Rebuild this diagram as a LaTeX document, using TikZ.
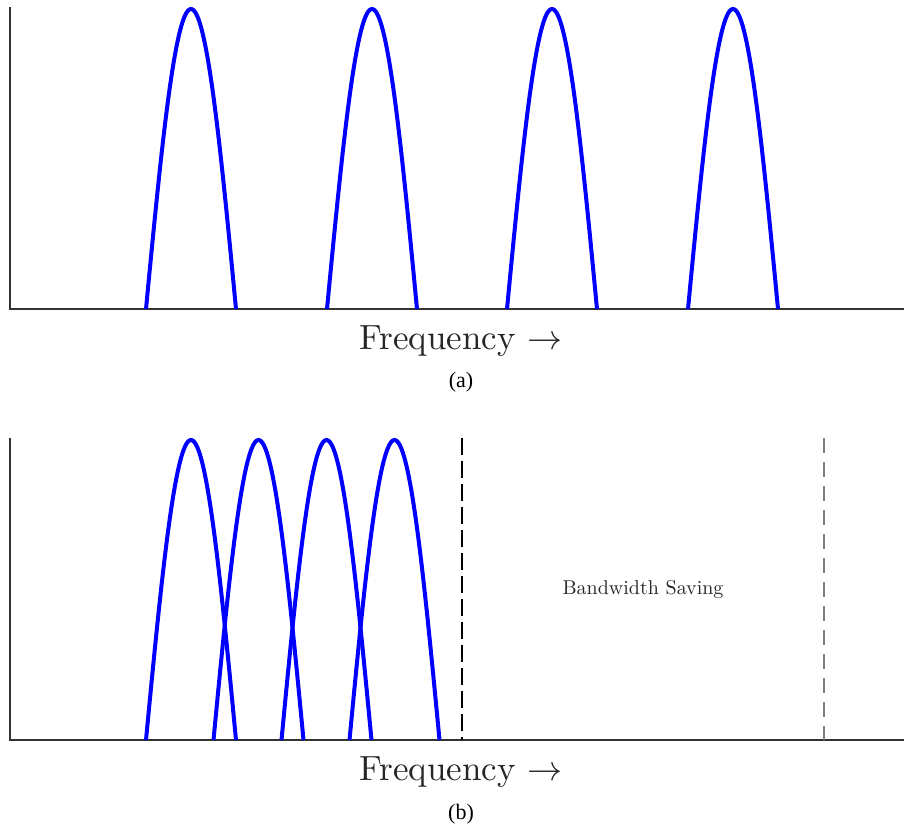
\documentclass[tikz,border=0pt]{standalone}
\usepackage{fontspec}
\newfontfamily\capfont{Liberation Serif}
\begin{document}
\begin{tikzpicture}[x=1pt,y=-1pt,
  axisline/.style={draw=black!80,line width=1.2pt},
  arch/.style={draw=blue,line width=4pt},
  freqlabel/.style={font=\fontsize{10}{12}\selectfont,scale=3.5,text=black!85},
  caplabel/.style={font=\capfont\fontsize{22}{26}\selectfont},
  bwlabel/.style={font=\fontsize{10}{12}\selectfont,scale=2.0,text=black!85}]
\useasboundingbox (0,0) rectangle (904,831);
% ---- panel (a)
\coordinate (aTop) at (10,7);
\coordinate (aO) at (10,309);
\coordinate (aEnd) at (904,309);
\draw[axisline] (aTop) -- (aO) -- (aEnd);
\foreach \c in {191,372,552,733}{
  \draw[arch] plot[domain=0:180,samples=80] ({\c-45+90*\x/180},{309-300*sin(\x)});
}
\node[freqlabel] (fa) at (461,341) {Frequency $\rightarrow$};
\node[caplabel] (ca) at (461,382) {(a)};
% ---- panel (b)
\coordinate (bTop) at (10,438);
\coordinate (bO) at (10,740);
\coordinate (bEnd) at (904,740);
\draw[axisline] (bTop) -- (bO) -- (bEnd);
\foreach \c in {191,258.5,326.5,394.5}{
  \draw[arch] plot[domain=0:180,samples=80] ({\c-45+90*\x/180},{740-300*sin(\x)});
}
\coordinate (d1t) at (462,438);
\coordinate (d1b) at (462,740);
\coordinate (d2t) at (824,438);
\coordinate (d2b) at (824,740);
\draw[black,line width=1.2pt,dash pattern=on 17pt off 6pt] (d1t) -- (d1b);
\draw[black!50,line width=1.6pt,dash pattern=on 15pt off 9pt] (d2t) -- (d2b);
\node[bwlabel] (bw) at (643,589) {Bandwidth Saving};
\node[freqlabel] (fb) at (461,772) {Frequency $\rightarrow$};
\node[caplabel] (cb) at (461,814) {(b)};
\end{tikzpicture}
\end{document}
